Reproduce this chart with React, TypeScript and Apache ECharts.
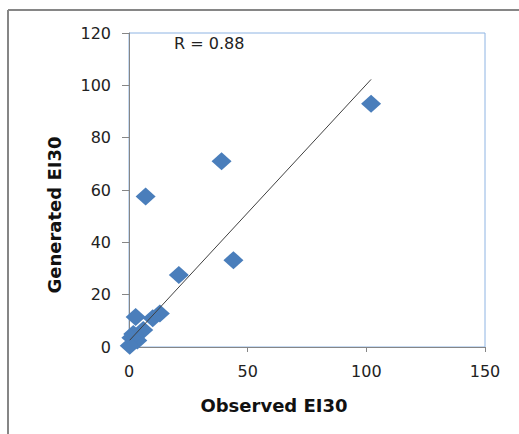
import React, { useEffect, useRef } from "react";
import * as echarts from "echarts";

const observed = [102, 39, 7, 21, 44, 13, 10, 2.8, 6, 1.8, 3.5, 1, 0.3];
const generated = [93, 71, 57.5, 27.5, 33.2, 12.8, 11, 11.5, 6.5, 5, 2.5, 3.5, 0.5];
const trendSlope = 0.98;
const trendIntercept = 2.3;
const rLabel = "R = 0.88";
const xTitle = "Observed EI30";
const yTitle = "Generated EI30";

export default function App() {
  const ref = useRef<HTMLDivElement>(null);
  useEffect(() => {
    if (!ref.current) return;
    const chart = echarts.init(ref.current, null, { renderer: "svg" });
    const pts = observed.map((x, i) => [x, generated[i]]);
    const xMin = Math.min(...observed);
    const xMax = Math.max(...observed);
    const trend = [
      [xMin, trendSlope * xMin + trendIntercept],
      [xMax, trendSlope * xMax + trendIntercept],
    ];
    const font = "DejaVu Sans";
    chart.setOption({
      animation: false,
      backgroundColor: "#ffffff",
      grid: {
        left: 129,
        top: 33,
        right: 34,
        bottom: 87,
        show: true,
        borderColor: "#8eb4e3",
        borderWidth: 1,
      },
      xAxis: {
        type: "value",
        min: 0,
        max: 150,
        interval: 50,
        splitLine: { show: false },
        axisLine: { show: true, lineStyle: { color: "#868686", width: 1 } },
        axisTick: { show: true, length: 5, lineStyle: { color: "#868686" } },
        axisLabel: { color: "#222", fontFamily: font, fontSize: 16, margin: 16 },
      },
      yAxis: {
        type: "value",
        min: 0,
        max: 120,
        interval: 20,
        splitLine: { show: false },
        axisLine: { show: true, lineStyle: { color: "#868686", width: 1 } },
        axisTick: { show: true, length: 7, inside: false, lineStyle: { color: "#868686" } },
        axisLabel: { color: "#222", fontFamily: font, fontSize: 16, margin: 18 },
      },
      series: [
        {
          type: "scatter",
          data: pts,
          symbol: "diamond",
          symbolSize: [20, 18],
          itemStyle: { color: "#4a7ebb", opacity: 1 },
          z: 2,
        },
        {
          type: "line",
          data: trend,
          symbol: "none",
          lineStyle: { color: "#404040", width: 1 },
          z: 3,
        },
      ],
      graphic: [
        { type: "line", shape: { x1: 8, y1: 10, x2: 519, y2: 10 }, style: { stroke: "#868686", lineWidth: 2 } },
        { type: "line", shape: { x1: 8, y1: 10, x2: 8, y2: 434 }, style: { stroke: "#868686", lineWidth: 2 } },
        {
          type: "text",
          x: 174,
          y: 43,
          style: { text: rLabel, fontFamily: font, fontSize: 16, fill: "#222", verticalAlign: "middle", align: "left" },
        },
        {
          type: "text",
          x: 274,
          y: 405,
          style: { text: xTitle, fontFamily: font, fontSize: 18, fontWeight: "bold", fill: "#111", align: "center", verticalAlign: "middle" },
        },
        {
          type: "text",
          x: 54,
          y: 215,
          rotation: Math.PI / 2,
          style: { text: yTitle, fontFamily: font, fontSize: 18, fontWeight: "bold", fill: "#111", align: "center", verticalAlign: "middle" },
        },
      ],
    });
    return () => chart.dispose();
  }, []);
  return (
    <div
      ref={ref}
      style={{ position: "fixed", left: 0, top: 0, width: 519, height: 434 }}
    />
  );
}
